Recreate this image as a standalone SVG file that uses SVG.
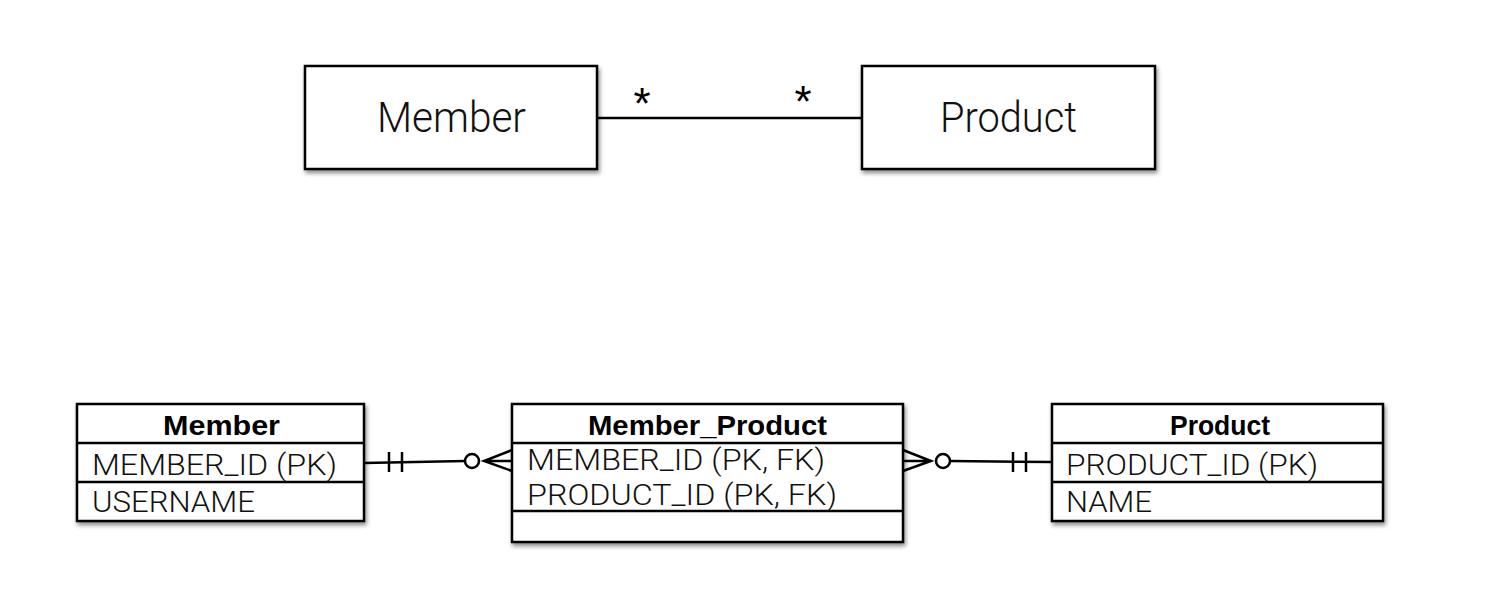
<svg xmlns="http://www.w3.org/2000/svg" width="1496" height="616" viewBox="0 0 1496 616">
<defs>
<style>
.box{fill:#fff;stroke:#000;stroke-width:2.5;filter:url(#sh)}
.ln{stroke:#000;stroke-width:2.5;fill:none}
.t{font-family:Roboto,"Liberation Sans",Arial,sans-serif;font-weight:300;fill:#111}
.big{font-size:43px}
.hd{font-family:"Liberation Sans",Arial,sans-serif;font-size:28px;font-weight:bold;fill:#000}
.row{font-size:30px}
.star{font-family:"Liberation Sans",Arial,sans-serif;font-size:44px;text-anchor:middle;fill:#000}
</style>
<filter id="sh" x="-10%" y="-10%" width="130%" height="140%">
<feDropShadow dx="1.5" dy="3" stdDeviation="2" flood-color="#000" flood-opacity="0.45"/>
</filter>
</defs>
<rect width="1496" height="616" fill="#fff"/>
<g id="connectors">
<line class="ln" x1="597" y1="118" x2="862" y2="118"/>
<text class="star" x="642" y="119">*</text>
<text class="star" x="803" y="117">*</text>
<line class="ln" x1="364" y1="463" x2="465" y2="461"/>
<line class="ln" x1="389" y1="452" x2="389" y2="472"/>
<line class="ln" x1="402" y1="452" x2="402" y2="472"/>
<circle class="ln" cx="472" cy="461" r="7"/>
<path class="ln" d="M512 450 L484 461 L512 471 M484 461 L512 461"/>
<path class="ln" d="M903 450 L931 461 L903 471 M903 461 L931 461"/>
<circle class="ln" cx="943" cy="461" r="7"/>
<line class="ln" x1="950" y1="461" x2="1052" y2="462"/>
<line class="ln" x1="1013" y1="452" x2="1013" y2="472"/>
<line class="ln" x1="1026" y1="452" x2="1026" y2="472"/>
</g>
<g id="uml-member">
<rect class="box" x="305" y="66" width="292" height="103"/>
<text class="t big" x="377" y="132" textLength="149" lengthAdjust="spacingAndGlyphs">Member</text>
</g>
<g id="uml-product">
<rect class="box" x="862" y="66" width="293" height="103"/>
<text class="t big" x="940" y="132" textLength="137" lengthAdjust="spacingAndGlyphs">Product</text>
</g>
<g id="erd-member">
<rect class="box" x="77" y="404" width="287" height="117"/>
<line class="ln" x1="77" y1="443" x2="364" y2="443"/>
<line class="ln" x1="77" y1="482" x2="364" y2="482"/>
<text class="hd" x="163" y="435" textLength="117" lengthAdjust="spacingAndGlyphs">Member</text>
<text class="t row" x="92" y="475" textLength="245" lengthAdjust="spacingAndGlyphs">MEMBER_ID (PK)</text>
<text class="t row" x="92" y="512" textLength="163" lengthAdjust="spacingAndGlyphs">USERNAME</text>
</g>
<g id="erd-member-product">
<rect class="box" x="512" y="404" width="391" height="138"/>
<line class="ln" x1="512" y1="443" x2="903" y2="443"/>
<line class="ln" x1="512" y1="511" x2="903" y2="511"/>
<text class="hd" x="588" y="435" textLength="239" lengthAdjust="spacingAndGlyphs">Member_Product</text>
<text class="t row" x="527" y="470" textLength="298" lengthAdjust="spacingAndGlyphs">MEMBER_ID (PK, FK)</text>
<text class="t row" x="527" y="505" textLength="310" lengthAdjust="spacingAndGlyphs">PRODUCT_ID (PK, FK)</text>
</g>
<g id="erd-product">
<rect class="box" x="1052" y="404" width="331" height="117"/>
<line class="ln" x1="1052" y1="443" x2="1383" y2="443"/>
<line class="ln" x1="1052" y1="482" x2="1383" y2="482"/>
<text class="hd" x="1170" y="435" textLength="100" lengthAdjust="spacingAndGlyphs">Product</text>
<text class="t row" x="1066" y="475" textLength="252" lengthAdjust="spacingAndGlyphs">PRODUCT_ID (PK)</text>
<text class="t row" x="1066" y="512" textLength="86" lengthAdjust="spacingAndGlyphs">NAME</text>
</g>
</svg>
